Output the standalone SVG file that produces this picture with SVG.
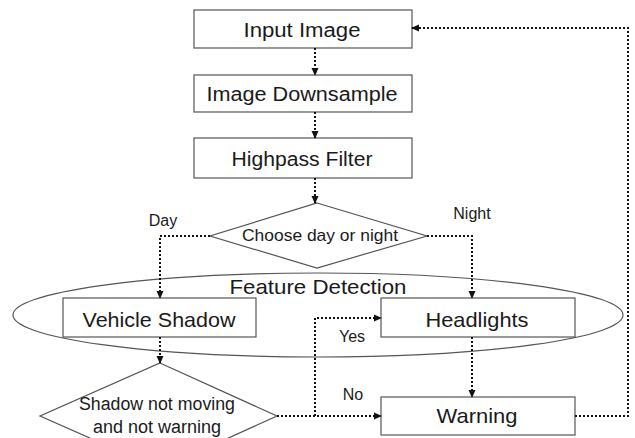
<svg xmlns="http://www.w3.org/2000/svg" width="635" height="438" viewBox="0 0 635 438">
  <style>
    .box { fill: #ffffff; stroke: #555555; stroke-width: 1.2; }
    .shape { fill: #ffffff; stroke: #555555; stroke-width: 1.2; }
    .lbl { font-family: "Liberation Sans", Arial, sans-serif; fill: #1a1a1a; text-anchor: middle; }
    .conn { fill: none; stroke: #111111; stroke-width: 2; stroke-dasharray: 2 2; }
  </style>
  <defs>
    <marker id="arrow" viewBox="0 0 8 8" refX="7" refY="4" markerWidth="8" markerHeight="8" markerUnits="userSpaceOnUse" orient="auto">
      <path d="M0,0.5 L8,4 L0,7.5 Z" fill="#111111"/>
    </marker>
  </defs>
  <rect width="635" height="438" fill="#ffffff"/>

  <!-- grouping ellipse -->
  <g id="feature-detection">
    <ellipse cx="318" cy="315" rx="305" ry="42" fill="none" stroke="#555555" stroke-width="1.2"/>
    <text class="lbl" x="318" y="294" font-size="21" textLength="177" lengthAdjust="spacingAndGlyphs">Feature Detection</text>
  </g>

  <g id="input-image">
    <rect class="box" x="194" y="10" width="218" height="38"/>
    <text class="lbl" x="302" y="37" font-size="20" textLength="117" lengthAdjust="spacingAndGlyphs">Input Image</text>
  </g>
  <g id="image-downsample">
    <rect class="box" x="194" y="75" width="218" height="37"/>
    <text class="lbl" x="302" y="101" font-size="20" textLength="191" lengthAdjust="spacingAndGlyphs">Image Downsample</text>
  </g>
  <g id="highpass-filter">
    <rect class="box" x="194" y="138" width="218" height="40"/>
    <text class="lbl" x="302" y="166" font-size="20" textLength="141" lengthAdjust="spacingAndGlyphs">Highpass Filter</text>
  </g>
  <g id="choose-day-night">
    <polygon class="shape" points="317,203 427,236 317,268 210,236"/>
    <text class="lbl" x="320" y="241" font-size="17" textLength="156" lengthAdjust="spacingAndGlyphs">Choose day or night</text>
  </g>
  <g id="vehicle-shadow">
    <rect class="box" x="63" y="298" width="193" height="39"/>
    <text class="lbl" x="159" y="327" font-size="21" textLength="153" lengthAdjust="spacingAndGlyphs">Vehicle Shadow</text>
  </g>
  <g id="headlights">
    <rect class="box" x="381" y="298" width="194" height="39"/>
    <text class="lbl" x="477" y="327" font-size="21" textLength="103" lengthAdjust="spacingAndGlyphs">Headlights</text>
  </g>
  <g id="shadow-check">
    <polygon class="shape" points="160,363 277,416 160,469 40,416"/>
    <text class="lbl" x="157" y="410" font-size="18" textLength="156" lengthAdjust="spacingAndGlyphs">Shadow not moving</text>
    <text class="lbl" x="157" y="433" font-size="18">and not warning</text>
  </g>
  <g id="warning">
    <rect class="box" x="381" y="397" width="194" height="38"/>
    <text class="lbl" x="477" y="423" font-size="21" textLength="81" lengthAdjust="spacingAndGlyphs">Warning</text>
  </g>

  <g id="connectors">
    <path class="conn" d="M315,48 V75" marker-end="url(#arrow)"/>
    <path class="conn" d="M315,112 V138" marker-end="url(#arrow)"/>
    <path class="conn" d="M315,178 V203" marker-end="url(#arrow)"/>
    <path class="conn" d="M210,236 H160 V298" marker-end="url(#arrow)"/>
    <path class="conn" d="M427,236 H472 V298" marker-end="url(#arrow)"/>
    <path class="conn" d="M160,337 V363" marker-end="url(#arrow)"/>
    <path class="conn" d="M277,416 H381" marker-end="url(#arrow)"/>
    <path class="conn" d="M315,416 V318 H381" marker-end="url(#arrow)"/>
    <path class="conn" d="M472,337 V397" marker-end="url(#arrow)"/>
    <path class="conn" d="M575,416 H628 V28 H412" marker-end="url(#arrow)"/>
    <text class="lbl" x="163" y="226" font-size="16">Day</text>
    <text class="lbl" x="472" y="219" font-size="16">Night</text>
    <text class="lbl" x="352" y="342" font-size="16">Yes</text>
    <text class="lbl" x="353" y="400" font-size="16">No</text>
  </g>
</svg>
